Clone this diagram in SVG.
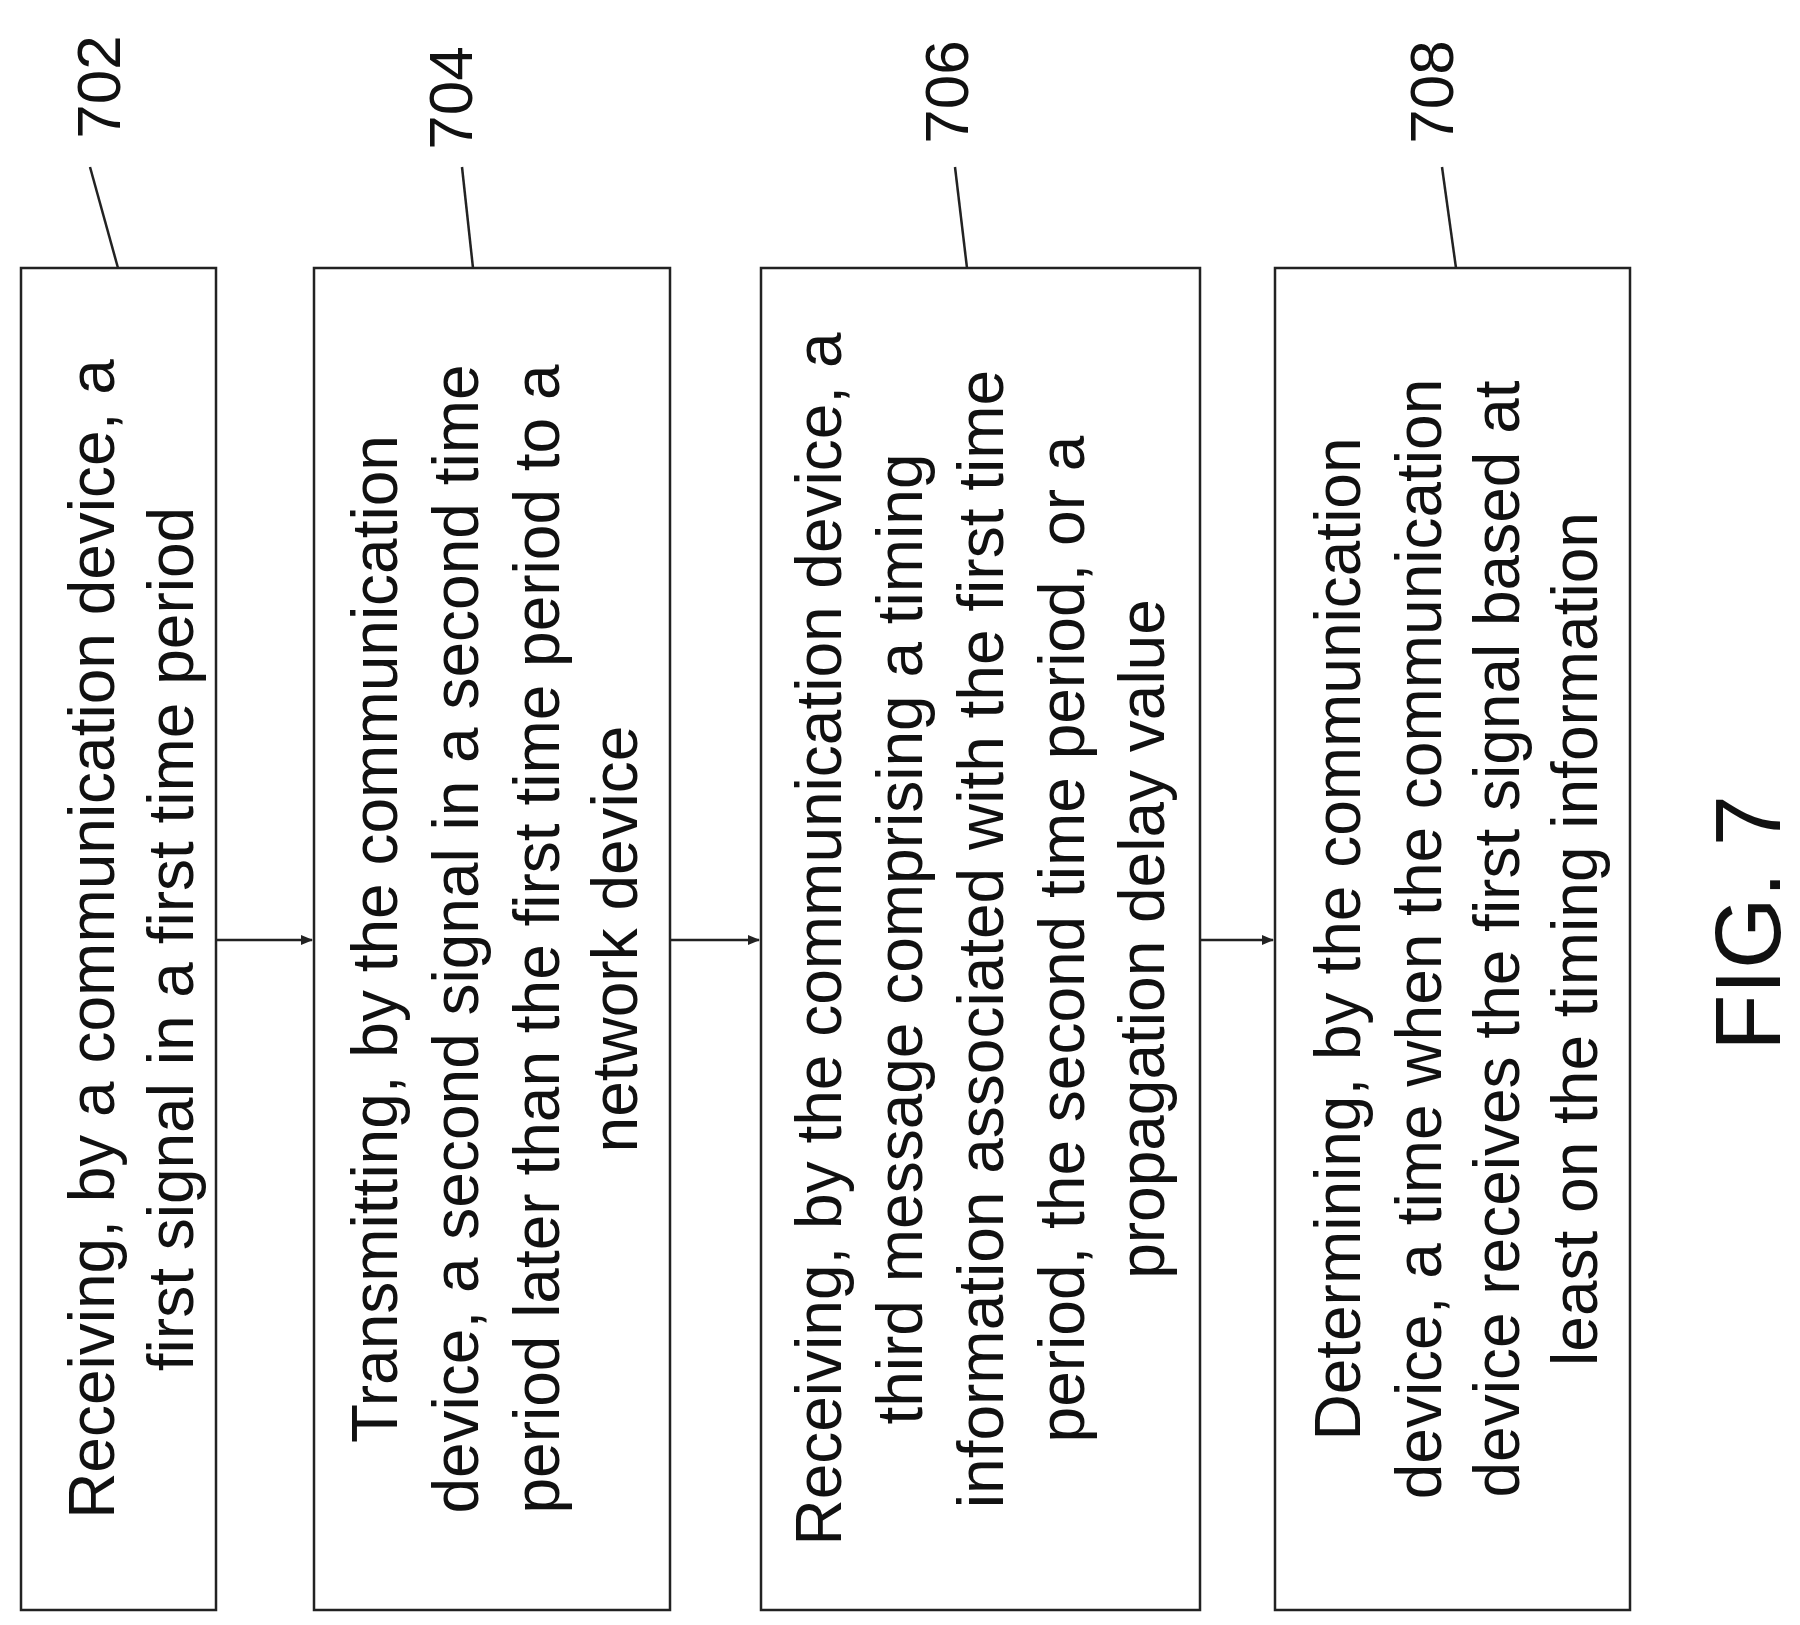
<svg xmlns="http://www.w3.org/2000/svg" width="1800" height="1625" viewBox="0 0 1800 1625">
<defs>
<style>
.b{fill:#fff;stroke:#222;stroke-width:2.5}
.t{font-family:"Liberation Sans",Arial,sans-serif;font-size:64px;fill:#111;text-anchor:middle;dominant-baseline:central}
.l{font-family:"Liberation Sans",Arial,sans-serif;font-size:62px;fill:#111;text-anchor:middle;dominant-baseline:central}
.c{stroke:#222;stroke-width:2.5;fill:none}
</style>
<marker id="a" markerWidth="12" markerHeight="12" refX="11" refY="6" orient="auto" markerUnits="userSpaceOnUse"><path d="M0,1 L12,6 L0,11 Z" fill="#222"/></marker>
</defs>
<rect width="1800" height="1625" fill="#fff"/>
<g id="n702">
<rect class="b" x="21" y="268" width="195" height="1342"/>
<g transform="translate(0,939) rotate(-90)"><text class="t" x="0" y="92">Receiving, by a communication device, a</text><text class="t" x="0" y="171">first signal in a first time period</text></g>
<text class="l" transform="translate(98,87) rotate(-90)">702</text>
</g>
<g id="n704">
<rect class="b" x="314" y="268" width="356" height="1342"/>
<g transform="translate(0,939) rotate(-90)"><text class="t" x="0" y="375">Transmitting, by the communication</text><text class="t" x="0" y="456">device, a second signal in a second time</text><text class="t" x="0" y="537">period later than the first time period to a</text><text class="t" x="0" y="615">network device</text></g>
<text class="l" transform="translate(450,98) rotate(-90)">704</text>
</g>
<g id="n706">
<rect class="b" x="761" y="268" width="439" height="1342"/>
<g transform="translate(0,939) rotate(-90)"><text class="t" x="0" y="819">Receiving, by the communication device, a</text><text class="t" x="0" y="900">third message comprising a timing</text><text class="t" x="0" y="981">information associated with the first time</text><text class="t" x="0" y="1062">period, the second time period, or a</text><text class="t" x="0" y="1142">propagation delay value</text></g>
<text class="l" transform="translate(946,92) rotate(-90)">706</text>
</g>
<g id="n708">
<rect class="b" x="1275" y="268" width="355" height="1342"/>
<g transform="translate(0,939) rotate(-90)"><text class="t" x="0" y="1338">Determining, by the communication</text><text class="t" x="0" y="1419">device, a time when the communication</text><text class="t" x="0" y="1497">device receives the first signal based at</text><text class="t" x="0" y="1575">least on the timing information</text></g>
<text class="l" transform="translate(1431,92) rotate(-90)">708</text>
</g>
<g id="fig"><text class="t" style="font-size:92px" transform="translate(1748,923) rotate(-90)">FIG. 7</text></g>
<g id="connectors">
<path class="c" d="M216,940 H312" marker-end="url(#a)"/>
<path class="c" d="M670,940 H759" marker-end="url(#a)"/>
<path class="c" d="M1200,940 H1273" marker-end="url(#a)"/>
<path class="c" d="M90,167 L118,268"/>
<path class="c" d="M462,167 L473,268"/>
<path class="c" d="M955,167 L967,268"/>
<path class="c" d="M1442,167 L1456,268"/>
</g>
</svg>
